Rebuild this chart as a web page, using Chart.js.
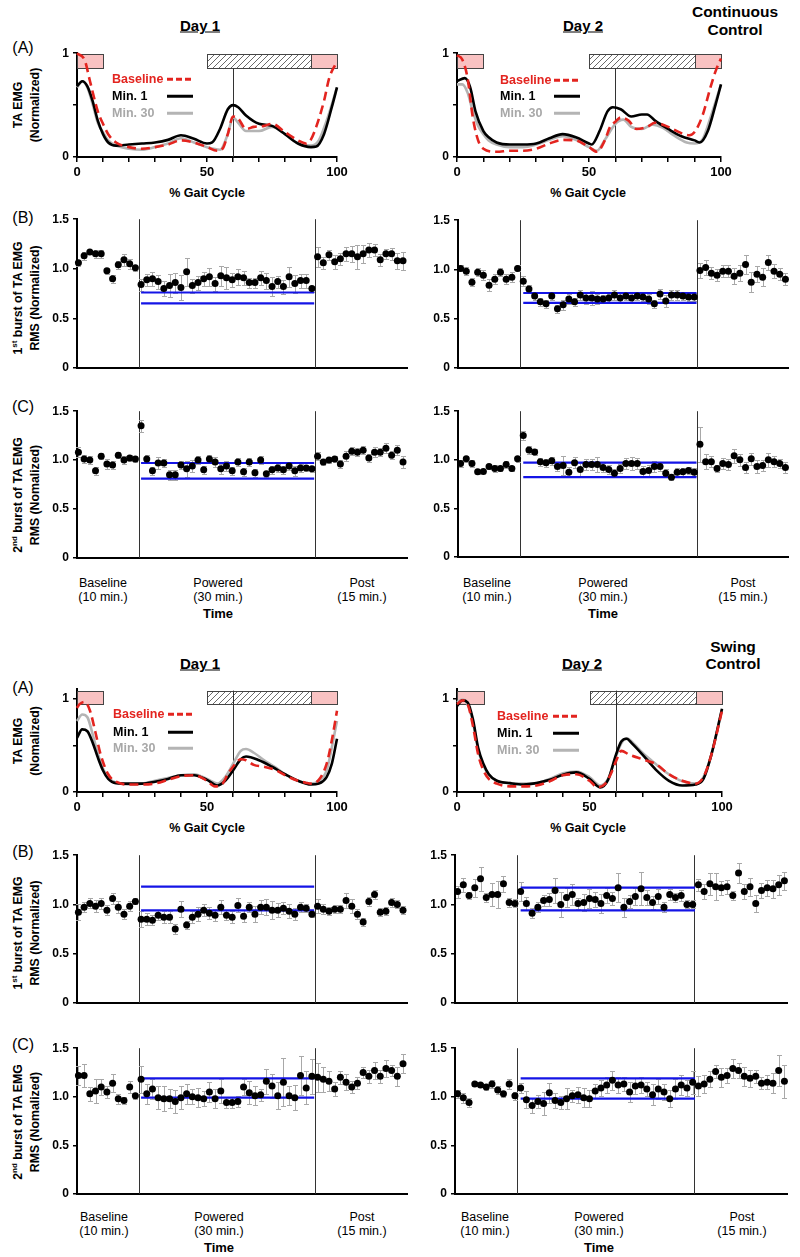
<!DOCTYPE html>
<html>
<head>
<meta charset="utf-8">
<script src="https://cdn.jsdelivr.net/npm/chart.js@4.4.0/dist/chart.umd.min.js"></script>
<style>
  body { margin: 0; width: 800px; height: 1257px; position: relative; overflow: hidden; background: #fff;
         font-family: Arial, "Liberation Sans", sans-serif; color: #000; }
  canvas { position: absolute; }
  .t { position: absolute; white-space: nowrap; transform: translate(-50%, -50%); line-height: 1; }
  .yl { position: absolute; white-space: nowrap; transform: translate(-50%, -50%) rotate(-90deg);
        font-weight: bold; font-size: 12.3px; line-height: 17px; text-align: center; }
  .yl sup { font-size: 8px; line-height: 0; }
  .lg { position: absolute; white-space: nowrap; transform: translateY(-50%); font-weight: bold; font-size: 12.5px; line-height: 1; }
  .ls { position: absolute; height: 2.5px; transform: translateY(-50%); }
</style>
</head>
<body>
<script>
// ---- gait cycle curves (% gait cycle, normalized TA EMG) ----
const ccDay1Baseline = [[0,1.0],[3,0.93],[5,0.73],[8,0.44],[10,0.32],[12,0.22],[15,0.14],[20,0.095],[25,0.08],[30,0.095],[35,0.12],[40,0.16],[45,0.14],[50,0.095],[54,0.06],[56,0.08],[58,0.22],[60,0.39],[62,0.37],[65,0.27],[68,0.29],[72,0.30],[75,0.32],[80,0.24],[85,0.16],[88,0.13],[90,0.17],[92,0.29],[95,0.54],[97,0.76],[100,0.92]]
const ccDay1Min1 = [[0,0.68],[2,0.73],[4,0.68],[6,0.54],[8,0.35],[10,0.22],[12,0.14],[15,0.11],[20,0.12],[25,0.13],[30,0.14],[35,0.165],[40,0.21],[45,0.175],[50,0.13],[52,0.14],[55,0.27],[58,0.46],[60,0.50],[62,0.48],[65,0.40],[70,0.32],[75,0.30],[80,0.22],[85,0.13],[90,0.095],[92,0.10],[95,0.22],[98,0.48],[100,0.67]]
const ccDay1Min30 = [[0,0.67],[2,0.73],[4,0.67],[6,0.51],[8,0.33],[10,0.24],[12,0.16],[15,0.11],[20,0.08],[25,0.07],[30,0.095],[35,0.13],[40,0.18],[45,0.14],[50,0.095],[55,0.07],[58,0.22],[60,0.38],[62,0.33],[65,0.25],[70,0.25],[75,0.29],[80,0.22],[85,0.13],[90,0.11],[93,0.16],[96,0.35],[100,0.67]]

const ccDay2Baseline = [[0,0.98],[2,0.94],[4,0.76],[6,0.38],[8,0.16],[10,0.08],[15,0.05],[20,0.06],[25,0.06],[30,0.08],[35,0.13],[40,0.165],[45,0.16],[50,0.095],[53,0.05],[56,0.16],[58,0.29],[60,0.34],[62,0.38],[65,0.35],[68,0.27],[72,0.29],[75,0.33],[80,0.29],[85,0.23],[88,0.21],[90,0.24],[93,0.40],[96,0.67],[98,0.83],[100,0.95]]
const ccDay2Min1 = [[0,0.73],[3,0.76],[5,0.67],[7,0.44],[10,0.25],[12,0.19],[15,0.14],[20,0.12],[25,0.12],[30,0.13],[35,0.18],[40,0.22],[45,0.19],[50,0.13],[51,0.12],[54,0.25],[57,0.44],[59,0.48],[62,0.46],[66,0.39],[70,0.41],[72,0.41],[75,0.35],[80,0.27],[85,0.20],[90,0.16],[92,0.14],[95,0.25],[98,0.51],[100,0.70]]
const ccDay2Min30 = [[0,0.70],[2,0.70],[4,0.62],[6,0.44],[8,0.30],[10,0.22],[12,0.16],[15,0.12],[20,0.095],[25,0.095],[30,0.12],[35,0.165],[40,0.20],[45,0.165],[50,0.095],[53,0.06],[56,0.165],[60,0.32],[63,0.36],[66,0.29],[70,0.27],[74,0.31],[78,0.28],[82,0.21],[87,0.14],[90,0.13],[93,0.17],[96,0.38],[100,0.70]]

const swDay1Baseline = [[0,0.90],[1,0.94],[3,0.965],[5,0.87],[7,0.65],[9,0.41],[12,0.19],[15,0.11],[20,0.08],[25,0.08],[30,0.09],[35,0.13],[40,0.17],[45,0.18],[50,0.12],[53,0.06],[56,0.09],[58,0.19],[60,0.27],[63,0.35],[65,0.34],[68,0.29],[72,0.27],[76,0.24],[80,0.18],[85,0.12],[88,0.10],[90,0.09],[93,0.13],[96,0.30],[98,0.55],[100,0.87]]
const swDay1Min1 = [[0,0.58],[2,0.67],[4,0.65],[6,0.53],[8,0.37],[10,0.23],[12,0.14],[15,0.095],[20,0.09],[25,0.09],[30,0.11],[35,0.14],[40,0.18],[45,0.18],[50,0.13],[54,0.07],[57,0.12],[60,0.23],[63,0.35],[65,0.38],[70,0.34],[75,0.27],[80,0.19],[85,0.12],[90,0.08],[93,0.09],[96,0.16],[98,0.30],[100,0.57]]
const swDay1Min30 = [[0,0.76],[2,0.83],[4,0.80],[6,0.62],[8,0.41],[10,0.25],[12,0.15],[15,0.10],[20,0.08],[25,0.09],[30,0.12],[35,0.15],[40,0.18],[45,0.19],[50,0.14],[54,0.09],[57,0.16],[60,0.30],[63,0.44],[65,0.46],[68,0.42],[72,0.34],[76,0.27],[80,0.19],[85,0.12],[90,0.09],[93,0.12],[96,0.23],[100,0.76]]

const swDay2Baseline = [[0,0.94],[2,0.98],[4,0.94],[6,0.71],[8,0.40],[10,0.23],[12,0.14],[15,0.09],[20,0.06],[25,0.06],[30,0.07],[35,0.115],[40,0.18],[45,0.19],[50,0.12],[53,0.05],[56,0.09],[58,0.19],[60,0.33],[62,0.44],[65,0.40],[70,0.35],[75,0.30],[80,0.19],[85,0.12],[90,0.09],[93,0.16],[96,0.40],[100,0.87]]
const swDay2Min1 = [[0,0.92],[2,0.98],[4,0.96],[6,0.78],[8,0.47],[10,0.30],[12,0.19],[15,0.12],[20,0.095],[25,0.08],[30,0.095],[35,0.13],[40,0.185],[45,0.21],[50,0.14],[54,0.05],[57,0.13],[60,0.40],[62,0.54],[64,0.57],[66,0.52],[70,0.40],[75,0.24],[80,0.12],[85,0.07],[90,0.08],[93,0.14],[96,0.40],[100,0.89]]
const swDay2Min30 = [[0,0.96],[2,0.99],[4,0.94],[6,0.75],[8,0.45],[10,0.28],[12,0.185],[15,0.12],[20,0.095],[25,0.09],[30,0.095],[35,0.14],[40,0.20],[45,0.22],[50,0.16],[54,0.07],[57,0.14],[60,0.38],[62,0.52],[64,0.575],[67,0.51],[70,0.42],[75,0.30],[80,0.19],[85,0.115],[90,0.09],[93,0.16],[96,0.40],[100,0.88]]

// ---- burst RMS per minute: baseline (11), powered (31), post (16) ----
const ccDay1Burst1 = [1.06,1.13,1.17,1.15,1.15,0.98,0.90,1.04,1.09,1.05,1.01,
  0.84,0.89,0.90,0.87,0.80,0.83,0.86,0.81,0.97,0.83,0.86,0.90,0.92,0.85,0.93,0.91,0.89,0.92,0.91,0.86,0.86,0.91,0.88,0.82,0.87,0.82,0.92,0.85,0.88,0.88,0.80,
  1.12,1.06,1.14,1.07,1.10,1.15,1.15,1.12,1.15,1.19,1.19,1.09,1.15,1.15,1.08,1.08]
const ccDay1Burst1Err = [.03,.04,.02,.04,.04,.03,.04,.04,.06,.05,.03,
  .06,.06,.07,.07,.08,.12,.10,.13,.14,.07,.07,.07,.09,.07,.10,.11,.07,.08,.07,.05,.05,.07,.08,.10,.06,.07,.10,.09,.07,.07,.03,
  .10,.06,.05,.07,.06,.07,.08,.12,.09,.07,.06,.06,.05,.06,.08,.09]
const ccDay1Burst1Band = [0.76, 0.65]

const ccDay2Burst1 = [1.01,0.98,0.87,0.97,0.94,0.84,0.90,0.97,0.90,0.92,1.01,
  0.88,0.80,0.73,0.67,0.65,0.73,0.60,0.64,0.70,0.67,0.74,0.71,0.71,0.70,0.70,0.71,0.74,0.71,0.73,0.71,0.73,0.72,0.70,0.65,0.75,0.68,0.74,0.74,0.73,0.72,0.72,
  0.99,1.02,0.96,0.94,0.98,0.98,0.93,0.96,1.05,0.87,0.95,0.92,1.07,0.98,0.95,0.90]
const ccDay2Burst1Err = [.03,.04,.04,.04,.05,.06,.05,.04,.05,.05,.03,
  .05,.04,.04,.04,.04,.04,.04,.05,.05,.04,.05,.06,.07,.05,.04,.04,.05,.05,.04,.05,.04,.04,.05,.04,.05,.06,.05,.05,.04,.04,.04,
  .08,.08,.06,.06,.06,.06,.08,.08,.10,.10,.08,.09,.08,.07,.06,.06]
const ccDay2Burst1Band = [0.76, 0.66]

const ccDay1Burst2 = [1.08,1.01,1.00,0.89,1.04,0.96,0.95,1.05,1.00,1.02,1.01,
  1.35,1.01,0.89,0.97,0.97,0.85,0.85,0.95,0.91,0.94,1.00,0.90,1.01,0.98,0.91,0.94,0.89,0.98,0.88,0.98,0.87,1.00,0.86,0.90,0.92,0.90,0.94,0.89,0.92,0.92,0.91,
  1.04,0.98,1.00,1.01,0.96,1.04,1.09,1.08,1.10,1.02,1.08,1.08,1.12,1.05,1.10,0.98]
const ccDay1Burst2Err = [.05,.04,.04,.04,.03,.05,.04,.03,.04,.03,.03,
  .06,.04,.04,.06,.04,.05,.05,.04,.08,.06,.04,.04,.04,.05,.05,.05,.04,.04,.04,.04,.04,.04,.03,.04,.04,.04,.04,.05,.04,.03,.03,
  .04,.03,.03,.03,.04,.05,.04,.04,.04,.04,.05,.04,.05,.04,.05,.06]
const ccDay1Burst2Band = [0.97, 0.81]

const ccDay2Burst2 = [0.96,1.01,0.96,0.875,0.88,0.93,0.91,0.91,0.95,0.91,1.01,
  1.25,1.10,1.08,0.98,0.97,0.99,0.93,0.94,0.87,0.97,0.90,0.95,0.95,0.95,0.92,0.90,0.86,0.91,0.96,0.96,0.96,0.88,0.89,0.93,0.93,0.86,0.82,0.87,0.875,0.89,0.87,
  1.16,0.98,0.98,0.91,0.96,0.95,1.04,1.00,0.92,1.01,0.93,0.94,1.00,0.98,0.96,0.92]
const ccDay2Burst2Err = [.04,.03,.04,.02,.02,.03,.04,.03,.04,.03,.03,
  .05,.04,.03,.04,.04,.04,.05,.10,.05,.06,.07,.06,.06,.08,.05,.05,.04,.05,.06,.07,.06,.06,.06,.06,.05,.04,.03,.04,.04,.04,.04,
  .18,.08,.06,.04,.06,.06,.07,.06,.06,.06,.07,.06,.07,.06,.05,.06]
const ccDay2Burst2Band = [0.97, 0.82]

const swDay1Burst1 = [0.92,0.97,1.01,0.98,1.01,0.94,1.06,0.97,0.90,0.98,1.03,
  0.85,0.85,0.84,0.89,0.87,0.87,0.75,0.95,0.79,0.87,0.90,0.94,0.91,0.89,0.97,0.89,0.87,0.99,0.88,0.97,0.90,0.97,0.97,0.94,0.94,0.96,0.93,0.90,0.97,0.96,0.90,
  0.98,0.95,0.93,0.95,0.95,1.04,0.98,0.90,0.82,1.03,1.10,0.92,0.93,1.02,1.00,0.94]
const swDay1Burst1Err = [.08,.05,.05,.06,.06,.05,.06,.06,.05,.05,.03,
  .08,.06,.05,.05,.06,.06,.05,.08,.04,.06,.07,.06,.06,.06,.07,.05,.06,.07,.06,.05,.08,.07,.08,.09,.07,.06,.07,.06,.05,.04,.03,
  .07,.05,.04,.04,.04,.08,.07,.05,.04,.05,.05,.04,.04,.05,.04,.04]
const swDay1Burst1Band = [1.18, 0.94]

const swDay2Burst1 = [1.13,1.20,1.09,1.17,1.26,1.07,1.10,1.10,1.21,1.02,1.01,
  1.13,1.01,0.91,0.97,1.04,1.05,1.14,1.00,1.07,1.10,1.01,1.02,1.06,1.05,1.01,1.09,1.06,1.17,0.97,1.03,1.08,1.16,1.07,1.02,1.08,0.97,1.10,1.07,1.09,1.00,1.00,
  1.20,1.13,1.21,1.18,1.17,1.18,1.09,1.32,1.13,1.18,1.01,1.14,1.17,1.16,1.20,1.24]
const swDay2Burst1Err = [.06,.07,.04,.09,.12,.05,.12,.14,.08,.05,.04,
  .10,.07,.05,.05,.06,.07,.13,.13,.10,.11,.06,.09,.10,.08,.10,.08,.07,.15,.10,.07,.09,.17,.08,.07,.08,.05,.06,.05,.06,.04,.04,
  .06,.08,.11,.14,.07,.07,.05,.10,.08,.09,.09,.08,.08,.09,.10,.09]
const swDay2Burst1Band = [1.17, 0.94]

const swDay1Burst2 = [1.22,1.22,1.03,1.06,1.10,1.05,1.14,0.98,0.96,1.10,1.01,
  1.18,1.03,1.08,0.99,0.98,0.98,0.95,0.99,1.03,1.00,0.99,0.98,1.05,0.98,1.06,0.94,0.94,0.95,1.10,1.04,1.01,1.02,1.16,1.11,1.01,1.15,1.01,0.99,1.22,1.09,1.21,
  1.20,1.18,1.16,1.08,1.20,1.15,1.10,1.14,1.25,1.21,1.27,1.21,1.29,1.27,1.21,1.34]
const swDay1Burst2Err = [.10,.12,.07,.12,.08,.06,.09,.05,.04,.06,.03,
  .14,.10,.10,.12,.13,.10,.12,.12,.10,.08,.10,.08,.10,.10,.12,.06,.06,.06,.08,.12,.10,.06,.13,.12,.14,.25,.10,.13,.20,.17,.18,
  .15,.13,.10,.07,.07,.08,.06,.06,.06,.07,.09,.07,.09,.06,.10,.10]
const swDay1Burst2Band = [1.19, 0.99]

const swDay2Burst2 = [1.03,0.99,0.94,1.13,1.12,1.10,1.13,1.07,1.03,1.13,1.01,
  1.09,0.97,0.91,0.95,0.93,1.04,0.96,0.94,0.98,1.01,1.02,0.99,0.98,1.06,1.09,1.12,1.17,1.12,1.13,1.05,1.11,1.12,1.08,1.02,1.08,1.05,0.98,1.08,1.12,1.09,1.15,
  1.11,1.13,1.18,1.26,1.20,1.22,1.29,1.27,1.21,1.19,1.21,1.14,1.15,1.14,1.27,1.16]
const swDay2Burst2Err = [.04,.05,.05,.02,.02,.03,.04,.04,.03,.05,.04,
  .05,.09,.08,.07,.12,.10,.08,.07,.11,.06,.08,.10,.09,.07,.08,.08,.10,.08,.07,.10,.08,.08,.07,.11,.10,.08,.09,.10,.10,.08,.12,
  .10,.09,.08,.07,.10,.08,.10,.08,.10,.09,.07,.06,.07,.10,.16,.17]
const swDay2Burst2Band = [1.19, 0.98]

const poweredStart = 11, poweredEnd = 41.4   // minute index span of the blue bands

// ---------------------------------------------------------------
const RED = '#e3241f', GREY = '#b4b4b4', BLUE = '#1414e6'
const FONT = 'Arial, "Liberation Sans", sans-serif'
Chart.defaults.font.family = FONT
Chart.defaults.color = '#000'

const hatch = (() => {
  const c = document.createElement('canvas')
  c.width = 6; c.height = 6
  const g = c.getContext('2d')
  g.fillStyle = '#fff'; g.fillRect(0, 0, 6, 6)
  g.strokeStyle = '#6a6a6a'; g.lineWidth = 1
  g.beginPath()
  g.moveTo(0, 6); g.lineTo(6, 0)
  g.moveTo(-1, 1); g.lineTo(1, -1)
  g.moveTo(5, 7); g.lineTo(7, 5)
  g.stroke()
  return c
})()

const decorCfg = {}
Chart.register({
  id: 'decor',
  beforeDatasetsDraw(chart) {
    const o = decorCfg[chart.canvas.id]
    if (!o) return
    const { ctx, scales: { x, y } } = chart
    ctx.save()
    ;(o.boxes || []).forEach(b => {
      const x0 = Math.round(x.getPixelForValue(b.x0)), x1 = Math.round(x.getPixelForValue(b.x1))
      const y0 = Math.round(y.getPixelForValue(b.top)), y1 = Math.round(y.getPixelForValue(b.bottom))
      ctx.fillStyle = b.hatch ? ctx.createPattern(hatch, 'repeat') : '#f9c2c2'
      ctx.fillRect(x0, y0, x1 - x0, y1 - y0)
      ctx.strokeStyle = '#444'; ctx.lineWidth = 1
      ctx.strokeRect(x0 + .5, y0 + .5, x1 - x0, y1 - y0)
    })
    ;(o.vlines || []).forEach(v => {
      const px = Math.round(x.getPixelForValue(v.x)) + .5
      ctx.strokeStyle = '#333'; ctx.lineWidth = 1
      ctx.beginPath()
      ctx.moveTo(px, y.getPixelForValue(v.from))
      ctx.lineTo(px, y.getPixelForValue(v.to))
      ctx.stroke()
    })
    if (o.err) {
      const ds = chart.data.datasets[0].data
      ctx.strokeStyle = '#a8a8a8'; ctx.lineWidth = 1
      o.err.forEach((e, i) => {
        const px = Math.round(x.getPixelForValue(ds[i].x)) + .5
        const t = Math.round(y.getPixelForValue(ds[i].y + e)) + .5
        const b = Math.round(y.getPixelForValue(ds[i].y - e)) + .5
        ctx.beginPath()
        ctx.moveTo(px, t); ctx.lineTo(px, b)
        ctx.moveTo(px - 2.5, t); ctx.lineTo(px + 2.5, t)
        ctx.moveTo(px - 2.5, b); ctx.lineTo(px + 2.5, b)
        ctx.stroke()
      })
    }
    ctx.restore()
  }
})

let nCanvas = 0
function makeCanvas(r, padT, padR, yW, xH) {
  const c = document.createElement('canvas')
  c.id = 'c' + (nCanvas++)
  const w = r.R - r.L + yW + padR, h = r.B - r.T + padT + xH
  c.width = w; c.height = h
  c.style.left = (r.L - yW) + 'px'
  c.style.top = (r.T - padT) + 'px'
  c.style.width = w + 'px'; c.style.height = h + 'px'
  document.body.appendChild(c)
  return c
}

const baseOpts = (padT, padR) => ({
  responsive: false, animation: false, events: [],
  layout: { padding: { top: padT, right: padR, left: 0, bottom: 0 } },
  plugins: { legend: { display: false }, tooltip: { enabled: false } },
})

function gaitChart(r, ymax, boxTop, boxBottom, lineTop, base, min1, min30) {
  const Y_W = 30, X_H = 26, PT = 10, PR = 16
  const c = makeCanvas(r, PT, PR, Y_W, X_H)
  const line = (pts, color, dash) => ({
    data: pts.map(p => ({ x: p[0], y: p[1] })),
    borderColor: color, borderWidth: 2.6, borderDash: dash || [],
    pointRadius: 0, cubicInterpolationMode: 'monotone', clip: false, fill: false,
  })
  decorCfg[c.id] = {
    boxes: [
      { x0: 0, x1: 10, top: boxTop, bottom: boxBottom },
      { x0: 50, x1: 90, top: boxTop, bottom: boxBottom, hatch: true },
      { x0: 90, x1: 100, top: boxTop, bottom: boxBottom },
    ],
    vlines: [{ x: 60, from: 0, to: lineTop }],
  }
  new Chart(c, {
    type: 'line',
    data: { datasets: [line(base, RED, [9, 5]), line(min1, '#000'), line(min30, GREY)] },
    options: {
      ...baseOpts(PT, PR),
      scales: {
        x: {
          type: 'linear', min: 0, max: 100,
          afterFit: s => { s.height = X_H },
          ticks: { stepSize: 10, autoSkip: false, maxRotation: 0, padding: 3,
                   font: { size: 13, weight: 'bold' }, callback: v => (v % 50 === 0 ? String(v) : '') },
          grid: { display: true, drawOnChartArea: false, drawTicks: true, tickLength: 5, color: '#000', lineWidth: 1.5 },
          border: { display: true, color: '#000', width: 2 },
        },
        y: {
          min: 0, max: ymax,
          afterFit: s => { s.width = Y_W },
          afterBuildTicks: s => { s.ticks = [{ value: 0 }, { value: 0.5 }, { value: 1 }] },
          ticks: { padding: 4, font: { size: 12, weight: 'bold' }, callback: v => (v === 0.5 ? '' : String(v)) },
          grid: { display: true, drawOnChartArea: false, drawTicks: true, tickLength: 4, color: '#000', lineWidth: 1.5 },
          border: { display: true, color: '#000', width: 2 },
        },
      },
    },
  })
}

function rmsChart(r, xr, vl, vals, errs, band) {
  const Y_W = 30, X_H = 2, PT = 10, PR = 8
  const c = makeCanvas(r, PT, PR, Y_W, X_H)
  decorCfg[c.id] = {
    vlines: [{ x: vl[0], from: 0, to: 1.5 }, { x: vl[1], from: 0, to: 1.5 }],
    err: errs,
  }
  const bandLine = v => ({
    data: [{ x: poweredStart, y: v }, { x: poweredEnd, y: v }],
    showLine: true, borderColor: BLUE, borderWidth: 2.2, pointRadius: 0,
  })
  new Chart(c, {
    type: 'scatter',
    data: {
      datasets: [
        { data: vals.map((v, i) => ({ x: i, y: v })), pointRadius: 3.5, pointBorderWidth: 0,
          backgroundColor: '#000', pointBackgroundColor: '#000', clip: false },
        bandLine(band[0]), bandLine(band[1]),
      ],
    },
    options: {
      ...baseOpts(PT, PR),
      scales: {
        x: {
          type: 'linear', min: xr[0], max: xr[1],
          afterFit: s => { s.height = X_H },
          ticks: { display: false },
          grid: { display: false },
          border: { display: true, color: '#000', width: 2 },
        },
        y: {
          min: 0, max: 1.5,
          afterFit: s => { s.width = Y_W },
          ticks: { stepSize: 0.5, padding: 4, font: { size: 12, weight: 'bold' } },
          grid: { display: true, drawOnChartArea: false, drawTicks: true, tickLength: 4, color: '#000', lineWidth: 1.5 },
          border: { display: true, color: '#000', width: 2 },
        },
      },
    },
  })
}

// ---- continuous control ----
gaitChart({ L: 77, R: 337, T: 52, B: 157 }, 1, 0.995, 0.855, 0.855, ccDay1Baseline, ccDay1Min1, ccDay1Min30)
gaitChart({ L: 457, R: 721, T: 52, B: 157 }, 1, 0.995, 0.855, 0.855, ccDay2Baseline, ccDay2Min1, ccDay2Min30)
const xL = [-0.25, 57.7], vL = [10.65, 41.6]
const xR = [-0.45, 57.45], vR = [10.45, 41.45]
rmsChart({ L: 77, R: 407, T: 218, B: 377 }, xL, vL, ccDay1Burst1, ccDay1Burst1Err, ccDay1Burst1Band)
rmsChart({ L: 458, R: 788, T: 219, B: 377 }, xR, vR, ccDay2Burst1, ccDay2Burst1Err, ccDay2Burst1Band)
rmsChart({ L: 77, R: 407, T: 410, B: 567 }, xL, vL, ccDay1Burst2, ccDay1Burst2Err, ccDay1Burst2Band)
rmsChart({ L: 458, R: 788, T: 410, B: 566 }, xR, vR, ccDay2Burst2, ccDay2Burst2Err, ccDay2Burst2Band)

// ---- swing control ----
gaitChart({ L: 77, R: 337, T: 688, B: 792 }, 1.1, 1.085, 0.94, 1.085, swDay1Baseline, swDay1Min1, swDay1Min30)
gaitChart({ L: 457, R: 722, T: 688, B: 792 }, 1.1, 1.085, 0.94, 1.085, swDay2Baseline, swDay2Min1, swDay2Min30)
rmsChart({ L: 77, R: 407, T: 854, B: 1012 }, xL, vL, swDay1Burst1, swDay1Burst1Err, swDay1Burst1Band)
rmsChart({ L: 455, R: 787, T: 854, B: 1012 }, xR, [10.3, 41.3], swDay2Burst1, swDay2Burst1Err, swDay2Burst1Band)
rmsChart({ L: 77, R: 407, T: 1047, B: 1203 }, xL, vL, swDay1Burst2, swDay1Burst2Err, swDay1Burst2Band)
rmsChart({ L: 455, R: 787, T: 1047, B: 1203 }, xR, [10.3, 41.3], swDay2Burst2, swDay2Burst2Err, swDay2Burst2Band)

// ---- text ----
function txt(x, y, html, style) {
  const d = document.createElement('div')
  d.className = 't'
  d.style.left = x + 'px'; d.style.top = y + 'px'
  d.style.cssText += style || ''
  d.innerHTML = html
  document.body.appendChild(d)
}
function ylab(x, y, html) {
  const d = document.createElement('div')
  d.className = 'yl'
  d.style.left = x + 'px'; d.style.top = y + 'px'
  d.innerHTML = html
  document.body.appendChild(d)
}
function legend(tx, lx0, lx1, ys) {
  const items = [['Baseline', RED], ['Min. 1', '#000'], ['Min. 30', '#a8a8a8']]
  items.forEach(([label, col], i) => {
    const t = document.createElement('div')
    t.className = 'lg'; t.textContent = label; t.style.color = col
    t.style.left = tx + 'px'; t.style.top = ys[i] + 'px'
    document.body.appendChild(t)
    const s = document.createElement('div')
    s.className = 'ls'
    s.style.left = lx0 + 'px'; s.style.top = ys[i] + 'px'; s.style.width = (lx1 - lx0) + 'px'
    s.style.background = i === 0 ? `repeating-linear-gradient(90deg, ${RED} 0 6px, transparent 6px 9px)` : (i === 1 ? '#000' : '#b4b4b4')
    document.body.appendChild(s)
  })
}

const TITLE = 'font-weight:bold;font-size:15px;text-decoration:underline;'
const GROUP = 'font-weight:bold;font-size:15.5px;'
const PANEL = 'font-size:16px;'
const XT = 'font-weight:bold;font-size:12.5px;'
const PH = 'font-size:12.5px;'

txt(200, 25, 'Day 1', TITLE); txt(583, 25, 'Day 2', TITLE)
txt(735, 12, 'Continuous', GROUP); txt(735, 30, 'Control', GROUP)
txt(23, 48, '(A)', PANEL); txt(23, 218, '(B)', PANEL); txt(23, 407, '(C)', PANEL)
ylab(27, 105, 'TA EMG<br>(Normalized)')
ylab(27, 298, '1<sup>st</sup> burst of TA EMG<br>RMS (Normalized)')
ylab(27, 495, '2<sup>nd</sup> burst of TA EMG<br>RMS (Nomalized)')
txt(207, 193, '% Gait Cycle', XT); txt(588, 193, '% Gait Cycle', XT)
legend(112, 167, 193, [79, 96, 113]); legend(500, 554, 580, [80, 96, 113])

function phases(y, xs) {
  txt(xs[0], y, 'Baseline', PH); txt(xs[0], y + 14, '(10 min.)', PH)
  txt(xs[1], y, 'Powered', PH); txt(xs[1], y + 14, '(30 min.)', PH)
  txt(xs[2], y, 'Post', PH); txt(xs[2], y + 14, '(15 min.)', PH)
  txt(xs[1], y + 30, 'Time', XT + 'font-size:13px;')
}
phases(583, [103, 218, 362]); phases(583, [487, 603, 743])

txt(200, 663, 'Day 1', TITLE); txt(582, 663, 'Day 2', TITLE)
txt(733, 647, 'Swing', GROUP); txt(733, 664, 'Control', GROUP)
txt(23, 688, '(A)', PANEL); txt(23, 852, '(B)', PANEL); txt(23, 1045, '(C)', PANEL)
ylab(27, 741, 'TA EMG<br>(Nomalized)')
ylab(27, 933, '1<sup>st</sup> burst of TA EMG<br>RMS (Normalized)')
ylab(27, 1122, '2<sup>nd</sup> burst of TA EMG<br>RMS (Nomalized)')
txt(207, 828, '% Gait Cycle', XT); txt(588, 828, '% Gait Cycle', XT)
legend(113, 168, 193, [714, 732, 748]); legend(497, 553, 579, [716, 733, 750])
phases(1217, [104, 219, 362]); phases(1217, [485, 599, 742])
</script>
</body>
</html>
